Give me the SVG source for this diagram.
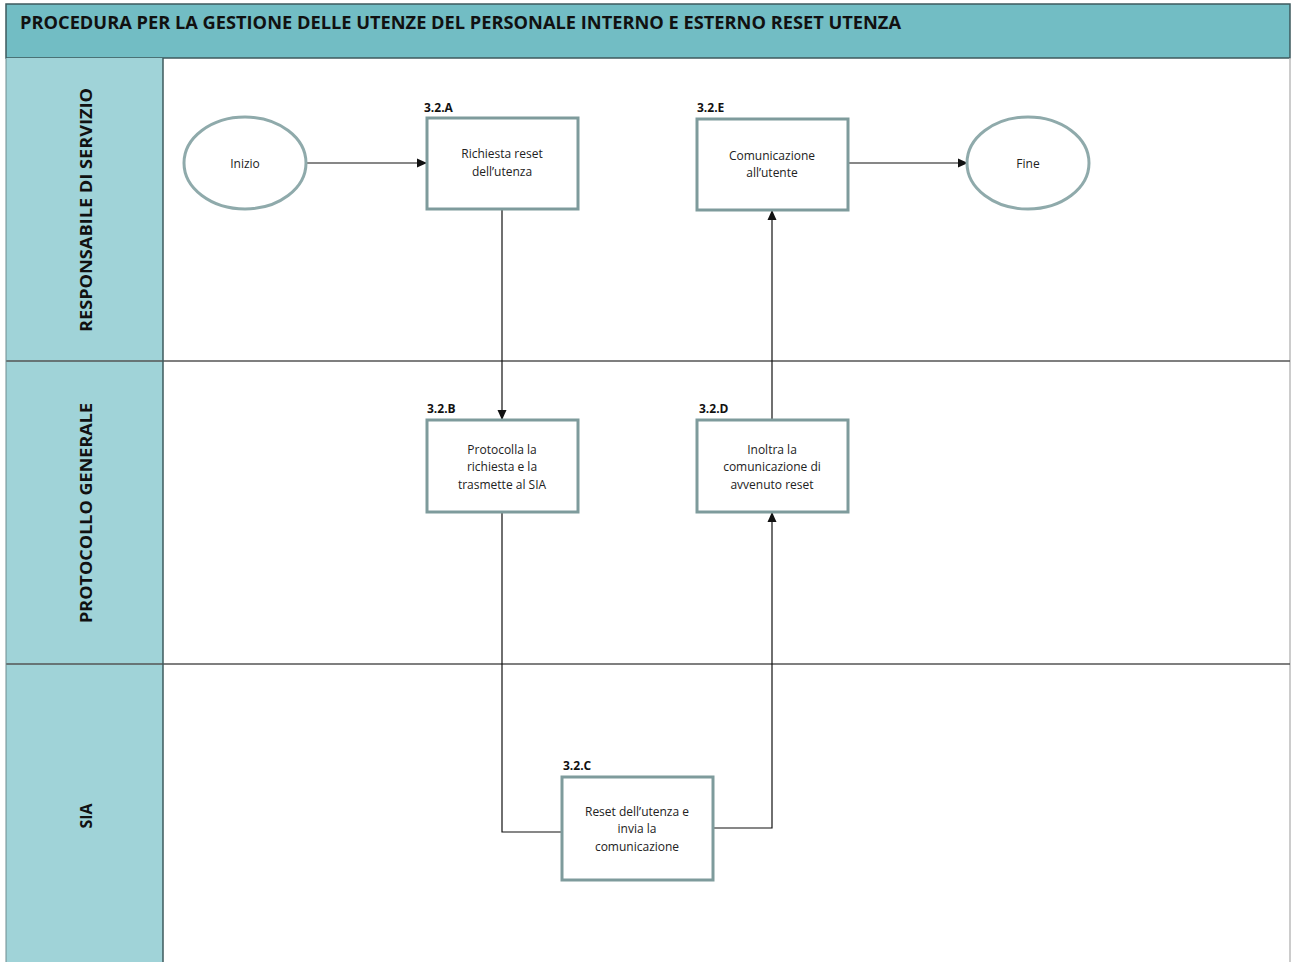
<svg xmlns="http://www.w3.org/2000/svg" width="1291" height="962" viewBox="0 0 1291 962">
  <style>
    .lane-line { stroke: #555; stroke-width: 1.5; }
    .lane-head { fill: #A0D3D8; }
    .lane-label { font-family: "Open Sans", "Liberation Sans", sans-serif; font-weight: bold; font-size: 16px; fill: #111; text-anchor: middle; }
    .box { fill: #fff; stroke: #7E9B9C; stroke-width: 3; }
    .term { fill: #fff; stroke: #8FAAAB; stroke-width: 3; }
    .txt { font-family: "Open Sans", "Liberation Sans", sans-serif; font-size: 12px; fill: #222; text-anchor: middle; }
    .step { font-family: "Open Sans", "Liberation Sans", sans-serif; font-weight: bold; font-size: 12px; fill: #111; }
    .conn { fill: none; stroke: #111; stroke-width: 1.2; }
  </style>
  <defs>
    <marker id="arrow" markerWidth="10" markerHeight="10" refX="9" refY="5" orient="auto" markerUnits="userSpaceOnUse">
      <path d="M0,0.5 L10,5 L0,9.5 Z" fill="#111"/>
    </marker>
  </defs>

  <rect x="0" y="0" width="1291" height="962" fill="#fff"/>

  <!-- title bar -->
  <g id="title">
    <rect x="6" y="4" width="1284" height="54" fill="#72BDC4" stroke="#3E5A5D" stroke-width="1.5"/>
    <text x="20" y="29" font-family="Open Sans, Liberation Sans, sans-serif" font-weight="bold" font-size="17" fill="#111" textLength="881" lengthAdjust="spacingAndGlyphs">PROCEDURA PER LA GESTIONE DELLE UTENZE DEL PERSONALE INTERNO E ESTERNO RESET UTENZA</text>
  </g>

  <!-- swimlanes -->
  <g id="lanes">
    <rect class="lane-head" x="6" y="58" width="157" height="904"/>
    <line x1="1290" y1="58" x2="1290" y2="962" stroke="#bbb" stroke-width="1.5"/>
    <line class="lane-line" x1="6" y1="361" x2="1290" y2="361"/>
    <line class="lane-line" x1="6" y1="664" x2="1290" y2="664"/>
    <line x1="163" y1="58" x2="163" y2="962" stroke="#3E5A5D" stroke-width="1.5"/>
    <line x1="6" y1="58" x2="6" y2="962" stroke="#6E8B8E" stroke-width="1"/>
    <text class="lane-label" transform="translate(92,210) rotate(-90)" textLength="244" lengthAdjust="spacingAndGlyphs">RESPONSABILE DI SERVIZIO</text>
    <text class="lane-label" transform="translate(92,513) rotate(-90)" textLength="220" lengthAdjust="spacingAndGlyphs">PROTOCOLLO GENERALE</text>
    <text class="lane-label" transform="translate(92,816) rotate(-90)">SIA</text>
  </g>

  <!-- connectors -->
  <g id="connectors">
    <path class="conn" d="M307,163 L426,163" marker-end="url(#arrow)"/>
    <path class="conn" d="M502,210 L502,419" marker-end="url(#arrow)"/>
    <path class="conn" d="M502,513 L502,832 L562,832"/>
    <path class="conn" d="M713,828 L772,828 L772,513" marker-end="url(#arrow)"/>
    <path class="conn" d="M772,420 L772,211" marker-end="url(#arrow)"/>
    <path class="conn" d="M849,163 L967,163" marker-end="url(#arrow)"/>
  </g>

  <g id="inizio">
    <ellipse class="term" cx="245" cy="163" rx="61" ry="46"/>
    <text class="txt" x="245" y="168">Inizio</text>
  </g>

  <g id="step-3-2-A">
    <text class="step" x="424" y="112">3.2.A</text>
    <rect class="box" x="427" y="118" width="151" height="91"/>
    <text class="txt" x="502" y="158">Richiesta reset</text>
    <text class="txt" x="502" y="176">dell’utenza</text>
  </g>

  <g id="step-3-2-E">
    <text class="step" x="697" y="112">3.2.E</text>
    <rect class="box" x="697" y="119" width="151" height="91"/>
    <text class="txt" x="772" y="160">Comunicazione</text>
    <text class="txt" x="772" y="177">all’utente</text>
  </g>

  <g id="fine">
    <ellipse class="term" cx="1028" cy="163" rx="61" ry="46"/>
    <text class="txt" x="1028" y="168">Fine</text>
  </g>

  <g id="step-3-2-B">
    <text class="step" x="427" y="413">3.2.B</text>
    <rect class="box" x="427" y="420" width="151" height="92"/>
    <text class="txt" x="502" y="454">Protocolla la</text>
    <text class="txt" x="502" y="471">richiesta e la</text>
    <text class="txt" x="502" y="489">trasmette al SIA</text>
  </g>

  <g id="step-3-2-D">
    <text class="step" x="699" y="413">3.2.D</text>
    <rect class="box" x="697" y="420" width="151" height="92"/>
    <text class="txt" x="772" y="454">Inoltra la</text>
    <text class="txt" x="772" y="471">comunicazione di</text>
    <text class="txt" x="772" y="489">avvenuto reset</text>
  </g>

  <g id="step-3-2-C">
    <text class="step" x="563" y="770">3.2.C</text>
    <rect class="box" x="562" y="777" width="151" height="103"/>
    <text class="txt" x="637" y="816">Reset dell’utenza e</text>
    <text class="txt" x="637" y="833">invia la</text>
    <text class="txt" x="637" y="851">comunicazione</text>
  </g>
</svg>
